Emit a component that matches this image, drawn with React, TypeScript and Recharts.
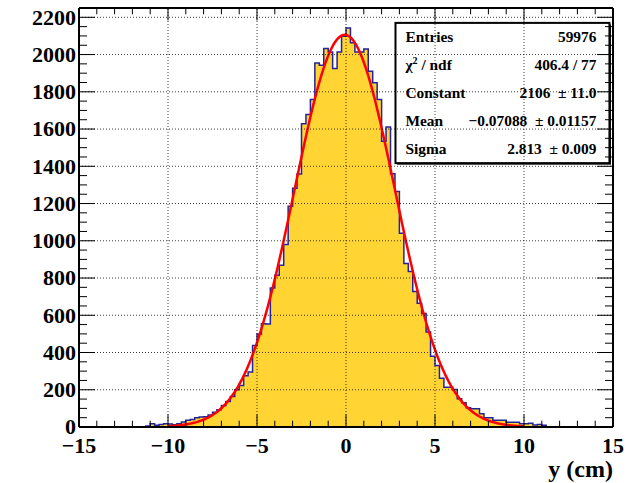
import React from 'react';
import {
  ComposedChart,
  Area,
  Line,
  XAxis,
  YAxis,
  ReferenceLine,
  ReferenceArea,
} from 'recharts';

// Histogram of y positions: 0.25 cm bins, first filled bin starts at -11.25 cm
const binWidth = 0.25;
const firstBinLow = -11.25;
const binCounts = [
  6, 18, 10, 14, 18, 16, 12, 18, 27, 36, 40, 50, 54, 55, 64, 79, 93, 116, 137, 164,
  200, 223, 275, 296, 438, 500, 555, 553, 747, 815, 868, 980, 1185, 1282, 1359, 1628,
  1678, 1758, 1955, 1943, 2032, 2014, 1925, 2014, 2098,
  2143, 2063, 2014, 2014, 2030, 1910, 1848, 1758, 1535, 1611, 1360, 1265, 1040, 878,
  835, 728, 664, 610, 510, 380, 330, 262, 214, 214, 202, 152, 130, 104, 98, 98, 71,
  50, 50, 36, 36, 36, 25, 25, 25, 18, 18, 20, 11, 14, 9,
];

// Gaussian fit result (fit range -10..10)
const fitConstant = 2106;
const fitMean = -0.07088;
const fitSigma = 2.813;
const fitRange = [-10, 10];

// Statistics box rows
const statNames = ['Entries', 'chi2', 'Constant', 'Mean', 'Sigma'];
const statValues = [
  '59976',
  '406.4 / 77',
  '2106  \u00b1 11.0',
  '\u22120.07088  \u00b1 0.01157',
  '2.813  \u00b1 0.009',
];

// Axes
const xDomain = [-15, 15];
const yDomain = [0, 2250];
const xMajorTicks = [-15, -10, -5, 0, 5, 10, 15];
const xMinorStep = 1;
const yMajorTicks = [0, 200, 400, 600, 800, 1000, 1200, 1400, 1600, 1800, 2000, 2200];
const yMinorStep = 50;
const xTitle = 'y (cm)';

const xTicks: number[] = [];
for (let v = xDomain[0]; v <= xDomain[1]; v += xMinorStep) xTicks.push(v);
const yTicks: number[] = [];
for (let v = 0; v <= 2200; v += yMinorStep) yTicks.push(v);

const histPoints = [
  { x: xDomain[0], count: 0 },
  ...binCounts.map((c, i) => ({ x: firstBinLow + i * binWidth, count: c })),
  { x: firstBinLow + binCounts.length * binWidth, count: 0 },
  { x: xDomain[1], count: 0 },
];

const fitPoints: { x: number; fit: number }[] = [];
for (let i = 0; i <= 400; i++) {
  const x = fitRange[0] + ((fitRange[1] - fitRange[0]) * i) / 400;
  const z = (x - fitMean) / fitSigma;
  fitPoints.push({ x, fit: fitConstant * Math.exp(-0.5 * z * z) });
}

const FONT = "'Liberation Serif', 'Times New Roman', serif";
const X_MAJOR_LEN = 12.5;
const X_MINOR_LEN = 6.3;
const Y_MAJOR_LEN = 16;
const Y_MINOR_LEN = 8;

const fmt = (v: number) => (v < 0 ? '\u2212' + Math.abs(v) : String(v));

const BottomTick = (props: any) => {
  const { x, y, payload } = props;
  const v = payload.value;
  const major = xMajorTicks.includes(v);
  return (
    <g>
      <line x1={x} x2={x} y1={y} y2={y - (major ? X_MAJOR_LEN : X_MINOR_LEN)} stroke="#000" strokeWidth={1} />
      {major && (
        <text x={x} y={y + 26} textAnchor="middle" fontFamily={FONT} fontWeight="bold" fontSize={22} fill="#000">
          {fmt(v)}
        </text>
      )}
      {v === xDomain[1] && (
        <text x={x} y={y + 50} textAnchor="end" fontFamily={FONT} fontWeight="bold" fontSize={24} fill="#000">
          {xTitle}
        </text>
      )}
    </g>
  );
};

const TopTick = (props: any) => {
  const { x, y, payload } = props;
  const major = xMajorTicks.includes(payload.value);
  return <line x1={x} x2={x} y1={y} y2={y + (major ? X_MAJOR_LEN : X_MINOR_LEN)} stroke="#000" strokeWidth={1} />;
};

const LeftTick = (props: any) => {
  const { x, y, payload } = props;
  const v = payload.value;
  const major = yMajorTicks.includes(v);
  return (
    <g>
      <line x1={x} x2={x + (major ? Y_MAJOR_LEN : Y_MINOR_LEN)} y1={y} y2={y} stroke="#000" strokeWidth={1} />
      {major && (
        <text x={x - 3} y={y} dy="0.33em" textAnchor="end" fontFamily={FONT} fontWeight="bold" fontSize={22} fill="#000">
          {v}
        </text>
      )}
    </g>
  );
};

const RightTick = (props: any) => {
  const { x, y, payload } = props;
  const major = yMajorTicks.includes(payload.value);
  return <line x1={x} x2={x - (major ? Y_MAJOR_LEN : Y_MINOR_LEN)} y1={y} y2={y} stroke="#000" strokeWidth={1} />;
};

const StatsBox = (props: any) => {
  const { x, y, width, height } = props;
  const rowH = height / statNames.length;
  const left = x + 10;
  const right = x + width - 13;
  return (
    <g>
      <rect x={x + 1.5} y={y + 1.5} width={width} height={height} fill="#000" />
      <rect x={x} y={y} width={width} height={height} fill="#fff" stroke="#000" strokeWidth={2} />
      {statNames.map((name, i) => {
        const base = y + rowH * i + rowH / 2 + 5;
        return (
          <g key={name} fontFamily={FONT} fontWeight="bold" fontSize={15.4} fill="#000">
            {name === 'chi2' ? (
              <text x={left} y={base} style={{ whiteSpace: 'pre' }}>
                <tspan>{'\u03c7'}</tspan>
                <tspan dy={-6} fontSize={10}>2</tspan>
                <tspan dy={6}>{' / ndf'}</tspan>
              </text>
            ) : (
              <text x={left} y={base}>{name}</text>
            )}
            <text x={right} y={base} textAnchor="end" style={{ whiteSpace: 'pre' }}>
              {statValues[i]}
            </text>
          </g>
        );
      })}
    </g>
  );
};

const gridStyle = { stroke: '#000', strokeOpacity: 0.75, strokeWidth: 1, strokeDasharray: '1 2' };
const frameLine = { stroke: '#000', strokeWidth: 2 };

export default function App() {
  return (
    <div style={{ position: 'absolute', left: 0, top: 0, background: '#fff' }}>
      <ComposedChart
        width={642}
        height={483}
        data={histPoints}
        margin={{ top: 7, right: 28, bottom: 55, left: 78 }}
      >
        <Area
          type="stepAfter"
          dataKey="count"
          stroke="#23239b"
          strokeWidth={1.5}
          fill="#ffd433"
          fillOpacity={1}
          dot={false}
          activeDot={false}
          isAnimationActive={false}
        />
        <Line
          data={fitPoints}
          dataKey="fit"
          type="linear"
          stroke="#ff0000"
          strokeWidth={2.5}
          dot={false}
          activeDot={false}
          isAnimationActive={false}
        />
        <ReferenceArea
          x1={2.78}
          x2={14.8}
          y1={1417}
          y2={2170}
          zIndex={450}
          shape={(p: any) => <StatsBox {...p} />}
        />
        {[-10, -5, 0, 5, 10].map((v) => (
          <ReferenceLine key={'gx' + v} x={v} zIndex={480} {...gridStyle} />
        ))}
        {yMajorTicks.filter((v) => v > 0).map((v) => (
          <ReferenceLine key={'gy' + v} y={v} zIndex={480} {...gridStyle} />
        ))}
        <XAxis
          dataKey="x"
          type="number"
          domain={xDomain}
          allowDataOverflow
          ticks={xTicks}
          interval={0}
          height={1}
          tickSize={0}
          tickMargin={0}
          tickLine={false}
          axisLine={frameLine}
          tick={<BottomTick />}
          zIndex={600}
        />
        <XAxis
          xAxisId="top"
          orientation="top"
          dataKey="x"
          type="number"
          domain={xDomain}
          allowDataOverflow
          ticks={xTicks}
          interval={0}
          height={1}
          tickSize={0}
          tickMargin={0}
          tickLine={false}
          axisLine={frameLine}
          tick={<TopTick />}
          zIndex={600}
        />
        <YAxis
          type="number"
          domain={yDomain}
          allowDataOverflow
          ticks={yTicks}
          interval={0}
          width={1}
          tickSize={0}
          tickMargin={0}
          tickLine={false}
          axisLine={frameLine}
          tick={<LeftTick />}
          zIndex={600}
        />
        <YAxis
          yAxisId="right"
          orientation="right"
          type="number"
          domain={yDomain}
          allowDataOverflow
          ticks={yTicks}
          interval={0}
          width={1}
          tickSize={0}
          tickMargin={0}
          tickLine={false}
          axisLine={frameLine}
          tick={<RightTick />}
          zIndex={600}
        />
      </ComposedChart>
    </div>
  );
}
